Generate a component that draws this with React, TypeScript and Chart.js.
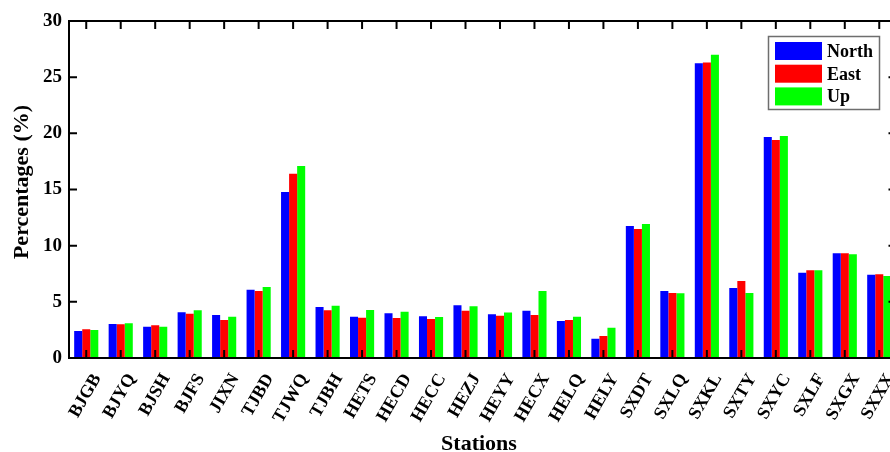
import React, { useEffect, useRef } from 'react';
import { Chart, registerables } from 'chart.js';

Chart.register(...registerables);

const stations = ['BJGB', 'BJYQ', 'BJSH', 'BJFS', 'JIXN', 'TJBD', 'TJWQ', 'TJBH', 'HETS', 'HECD', 'HECC', 'HEZJ', 'HEYY', 'HECX', 'HELQ', 'HELY', 'SXDT', 'SXLQ', 'SXKL', 'SXTY', 'SXYC', 'SXLF', 'SXGX', 'SXXX'];
const north = [2.4, 3.03, 2.79, 4.07, 3.83, 6.08, 14.78, 4.54, 3.68, 3.98, 3.71, 4.69, 3.89, 4.21, 3.29, 1.72, 11.75, 5.97, 26.24, 6.23, 19.68, 7.6, 9.32, 7.42];
const east = [2.55, 3.0, 2.91, 3.95, 3.38, 5.97, 16.4, 4.25, 3.59, 3.56, 3.47, 4.21, 3.77, 3.83, 3.38, 1.96, 11.49, 5.79, 26.3, 6.86, 19.41, 7.81, 9.32, 7.45];
const up = [2.5, 3.09, 2.79, 4.25, 3.68, 6.32, 17.1, 4.66, 4.27, 4.12, 3.65, 4.6, 4.04, 5.97, 3.68, 2.7, 11.93, 5.76, 27.0, 5.79, 19.77, 7.81, 9.23, 7.3];
const seriesNames = ['North', 'East', 'Up'];
const seriesColors = ['#0000FF', '#FF0000', '#00FF00'];
const yTicks = [0, 5, 10, 15, 20, 25, 30];
const xTitle = 'Stations';
const yTitle = 'Percentages (%)';

const FONT = '"Liberation Serif", "Times New Roman", serif';

export default function App() {
  const ref = useRef<HTMLCanvasElement>(null);

  useEffect(() => {
    const canvas = ref.current;
    if (!canvas) return;

    const framePlugin = {
      id: 'frame',
      afterDatasetsDraw(chart: any) {
        const { ctx, chartArea, scales } = chart;
        const { left, right, top, bottom } = chartArea;
        ctx.save();
        ctx.strokeStyle = '#000';
        ctx.lineWidth = 2;
        ctx.beginPath();
        ctx.rect(left, top, right - left, bottom - top);
        ctx.stroke();
        const tl = 8;
        ctx.beginPath();
        yTicks.forEach((v) => {
          const py = scales.y.getPixelForValue(v);
          ctx.moveTo(left, py);
          ctx.lineTo(left + tl, py);
          ctx.moveTo(right, py);
          ctx.lineTo(right - tl, py);
        });
        stations.forEach((_, i) => {
          const px = scales.x.getPixelForValue(i);
          ctx.moveTo(px, bottom);
          ctx.lineTo(px, bottom - tl);
          ctx.moveTo(px, top);
          ctx.lineTo(px, top + tl);
        });
        ctx.stroke();

        // legend
        const lx = 768.5, ly = 36.5, lw = 111, lh = 73;
        ctx.fillStyle = '#fff';
        ctx.fillRect(lx, ly, lw, lh);
        ctx.strokeStyle = '#6e6e6e';
        ctx.lineWidth = 1.5;
        ctx.strokeRect(lx, ly, lw, lh);
        ctx.font = `bold 18px ${FONT}`;
        ctx.textAlign = 'left';
        ctx.textBaseline = 'alphabetic';
        seriesNames.forEach((name, i) => {
          const sy = 42 + i * 22.7;
          ctx.fillStyle = seriesColors[i];
          ctx.fillRect(775, sy, 47, 18);
          ctx.fillStyle = '#000';
          ctx.fillText(name, 827, sy + 15);
        });

        // axis titles
        ctx.font = `bold 22px ${FONT}`;
        ctx.fillStyle = '#000';
        ctx.textAlign = 'center';
        ctx.fillText(xTitle, 479, 450);
        ctx.save();
        ctx.translate(28, 182);
        ctx.rotate(-Math.PI / 2);
        ctx.fillText(yTitle, 0, 0);
        ctx.restore();
        ctx.restore();
      },
    };

    const chart = new Chart(canvas, {
      type: 'bar',
      data: {
        labels: stations,
        datasets: [north, east, up].map((d, i) => ({
          label: seriesNames[i],
          data: d,
          backgroundColor: seriesColors[i],
          borderWidth: 0,
          barPercentage: 1,
          categoryPercentage: 0.7,
        })),
      },
      options: {
        responsive: false,
        animation: false,
        devicePixelRatio: 1,
        layout: { padding: { top: 21, right: 8.5, left: 0, bottom: 0 } },
        plugins: { legend: { display: false }, tooltip: { enabled: false } },
        scales: {
          x: {
            grid: { display: false, drawTicks: false, tickLength: 0 },
            border: { display: false },
            ticks: {
              color: '#000',
              font: { family: FONT, size: 18, weight: 'bold' },
              minRotation: 60,
              maxRotation: 60,
              autoSkip: false,
              padding: 12,
              labelOffset: 11,
            },
            afterFit: (s: any) => {
              s.height = 94;
              s.paddingLeft = 0;
              s.paddingRight = 0;
            },
          },
          y: {
            min: 0,
            max: 30,
            grid: { display: false, drawTicks: false, tickLength: 0 },
            border: { display: false },
            ticks: {
              stepSize: 5,
              color: '#000',
              font: { family: FONT, size: 19, weight: 'bold' },
              padding: 7,
            },
            afterFit: (s: any) => {
              s.width = 69;
              s.paddingTop = 0;
              s.paddingBottom = 0;
            },
          },
        },
      },
      plugins: [framePlugin],
    });
    return () => chart.destroy();
  }, []);

  return (
    <div style={{ position: 'fixed', left: 0, top: 0, width: 890, height: 452, overflow: 'hidden', background: '#fff' }}>
      <canvas ref={ref} width={905} height={452} style={{ display: 'block', width: 905, height: 452 }} />
    </div>
  );
}
